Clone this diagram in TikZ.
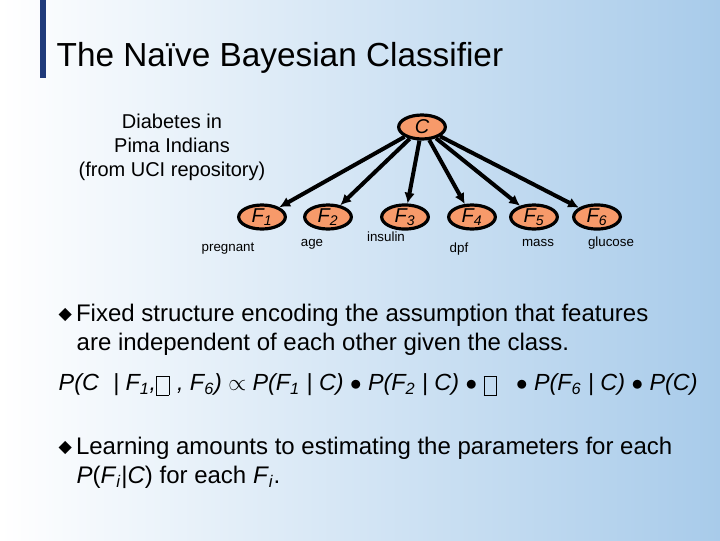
\documentclass[tikz,border=0pt]{standalone}
\usepackage{fontspec}
\setmainfont{Liberation Sans}
\newfontfamily\symfont{DejaVu Sans}
\usetikzlibrary{shapes.geometric,arrows.meta}
\definecolor{slideblue}{HTML}{A8CBEA}
\definecolor{barblue}{HTML}{1F3A7A}
\definecolor{nodeorange}{HTML}{F79A6A}
\newcommand{\dia}{{\symfont\fontsize{13}{13}\selectfont\raisebox{1pt}{◆}}}
\newcommand{\gap}{\fbox{\rule{0pt}{8pt}\hspace{3pt}}}
\tikzset{
  feature/.style={ellipse, draw=black, line width=2.4pt, fill=nodeorange, minimum width=35pt, minimum height=18pt, inner sep=0pt, font=\itshape\fontsize{15}{15}\selectfont},
  attr/.style={font=\fontsize{10}{10}\selectfont},
  edge/.style={line width=3pt, -{Latex[length=8pt,width=8pt]}},
  bullet/.style={anchor=west, font=\fontsize{18}{21}\selectfont}
}
\begin{document}
\begin{tikzpicture}[x=0.75pt,y=-0.75pt]
  % Background
  \shade[left color=white, right color=slideblue] (0,0) rectangle (720,540);
  \useasboundingbox (0,0) rectangle (720,540);
  \fill[barblue] (40,0) rectangle (46,78);
  \node[anchor=west, font=\fontsize{25}{25}\selectfont] (title) at (52,58) {The Naïve Bayesian Classifier};

  % Network
  \node[align=center, font=\fontsize{15}{18}\selectfont] (dataset) at (172,147) {Diabetes in\\Pima Indians\\(from UCI repository)};
  \node[feature] (C) at (422,127) {C};
  \node[feature] (F1) at (262,217) {F\textsubscript{1}};
  \node[feature] (F2) at (328,217) {F\textsubscript{2}};
  \node[feature] (F3) at (405,217) {F\textsubscript{3}};
  \node[feature] (F4) at (472,217) {F\textsubscript{4}};
  \node[feature] (F5) at (534,217) {F\textsubscript{5}};
  \node[feature] (F6) at (597,217) {F\textsubscript{6}};
  \foreach \f in {F1,F2,F3,F4,F5,F6}
    \draw[edge] (C) -- (\f);

  % Attribute names
  \node[attr] (pregnant) at (228,249) {pregnant};
  \node[attr] (age) at (312,244) {age};
  \node[attr] (insulin) at (386,237) {insulin};
  \node[attr] (dpf) at (459,249) {dpf};
  \node[attr] (mass) at (538,243) {mass};
  \node[attr] (glucose) at (611,243) {glucose};

  % Text
  \node[bullet] (b1) at (54,315) {\dia\,Fixed structure encoding the assumption that features};
  \node[bullet] (b1b) at (72,344) {are independent of each other given the class.};
  \node[anchor=west, font=\itshape\fontsize{17.5}{18}\selectfont] (formula) at (54,385)
    {P(C\,\, | F\textsubscript{1},\gap\,\,, F\textsubscript{6}) $\propto$ P(F\textsubscript{1} | C) $\bullet$ P(F\textsubscript{2} | C) $\bullet$ \gap\;\; $\bullet$ P(F\textsubscript{6} | C) $\bullet$ P(C)};
  \node[bullet] (b2) at (54,448) {\dia\,Learning amounts to estimating the parameters for each};
  \node[bullet] (b2b) at (72,477) {\textit{P}(\textit{F}\textsubscript{\textit{i}}|\textit{C}) for each \textit{F}\textsubscript{\textit{i}}.};
\end{tikzpicture}
\end{document}
